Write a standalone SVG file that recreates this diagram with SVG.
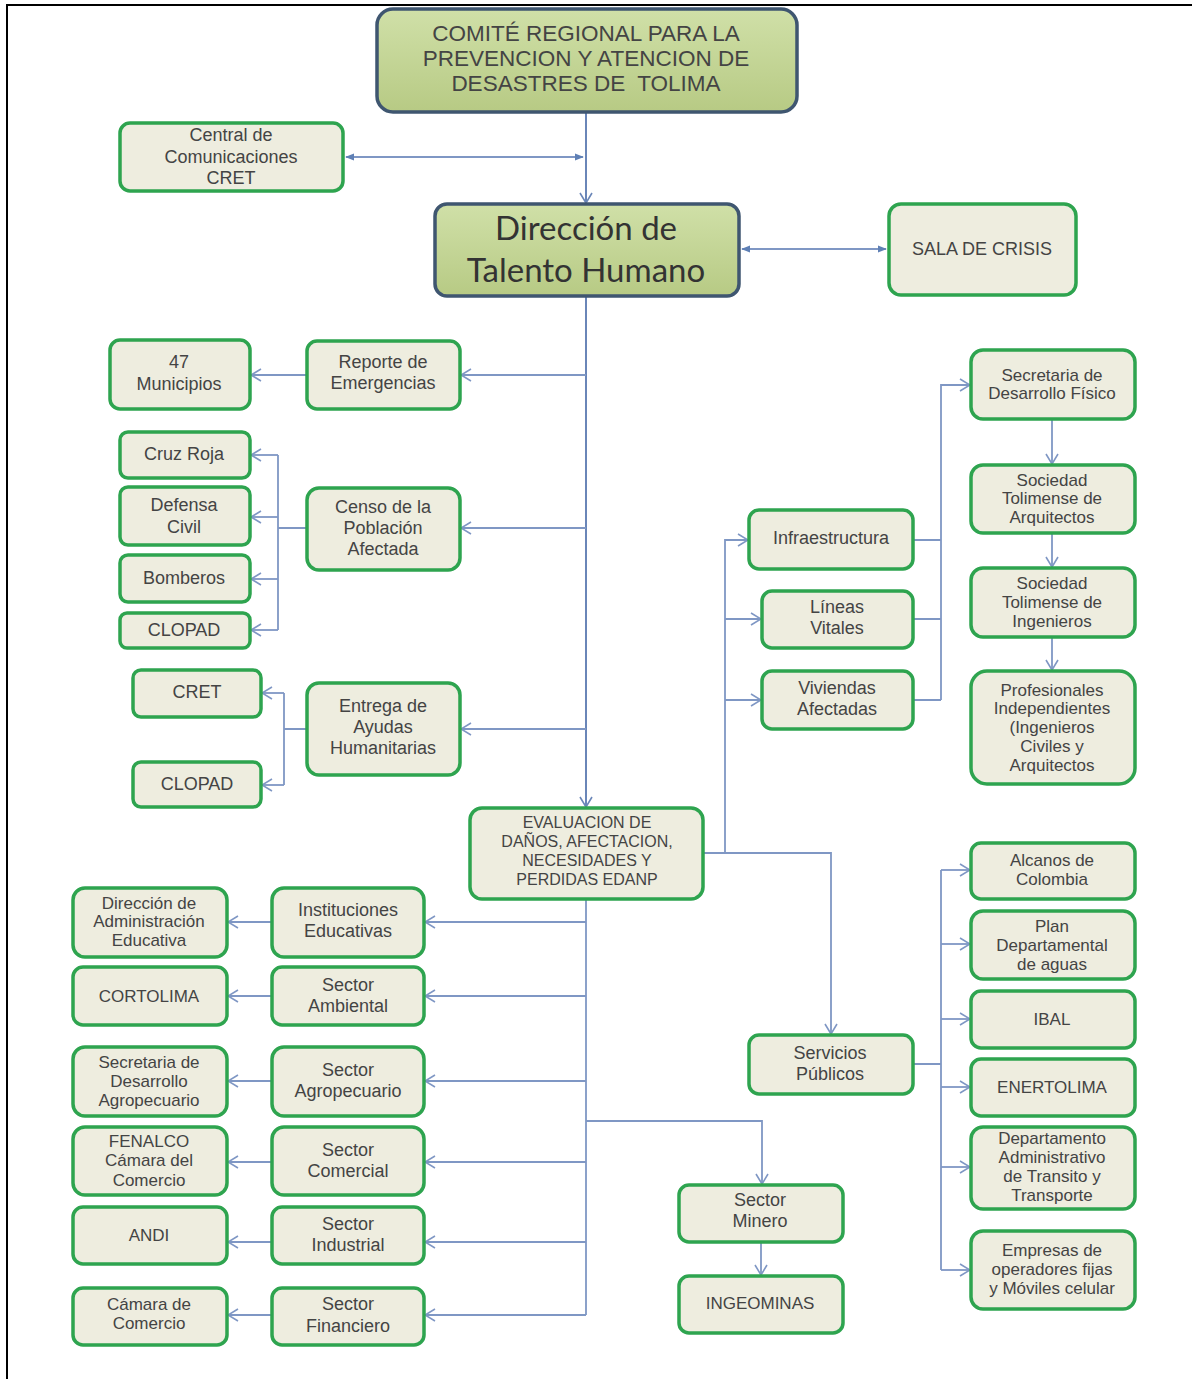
<svg xmlns="http://www.w3.org/2000/svg" width="1192" height="1379" viewBox="0 0 1192 1379">
<defs>
<linearGradient id="olive" x1="0" y1="0" x2="0" y2="1">
<stop offset="0" stop-color="#d0e0a8"/>
<stop offset="1" stop-color="#b7ca84"/>
</linearGradient>
<marker id="open" viewBox="0 0 12 14" refX="11" refY="7" markerWidth="12" markerHeight="14" markerUnits="userSpaceOnUse" orient="auto">
<path d="M1,1 L11,7 L1,13" fill="none" stroke="#7f97c4" stroke-width="1.6"/>
</marker>
<marker id="openD" viewBox="0 0 12 14" refX="11" refY="7" markerWidth="12" markerHeight="14" markerUnits="userSpaceOnUse" orient="auto">
<path d="M1,1 L11,7 L1,13" fill="none" stroke="#6a86b8" stroke-width="1.6"/>
</marker>
<marker id="fill" viewBox="0 0 10 10" refX="9" refY="5" markerWidth="9" markerHeight="9" markerUnits="userSpaceOnUse" orient="auto-start-reverse">
<path d="M0,1 L10,5 L0,9 z" fill="#5f80b5"/>
</marker>
</defs>
<style>
.n{fill:#eeeddf;stroke:#2ea44f;stroke-width:3.5}
.top{fill:url(#olive);stroke:#3f5670;stroke-width:3.5}
text{font-family:"Liberation Sans",Arial,sans-serif;fill:#444;text-anchor:middle}
.t18{font-size:18px}
.t17{font-size:17px}
.t16{font-size:16px}
.t22{font-size:22.5px}
.big{font-family:Lato,"Open Sans",sans-serif;font-size:33px;fill:#333}
.c{fill:none;stroke:#7f97c4;stroke-width:1.8}
.cd{fill:none;stroke:#6a86b8;stroke-width:2}
.a{marker-end:url(#open)}
.ad{marker-end:url(#openD)}
.ff{marker-start:url(#fill);marker-end:url(#fill)}
</style>
<rect width="1192" height="1379" fill="#fff"/>
<path d="M7,1379 V5 H1192" fill="none" stroke="#000" stroke-width="2"/>

<g id="connectors">
<path class="cd ad" d="M586,112 V203"/>
<path class="cd ad" d="M586,296 V807"/>
<path class="c ff" d="M346,157 H583"/>
<path class="c ff" d="M742,249 H886"/>
<path class="c a" d="M586,375 H461"/>
<path class="c a" d="M307,375 H251"/>
<path class="c a" d="M586,528 H461"/>
<path class="c" d="M307,528 H278 M278,455 V630"/>
<path class="c a" d="M278,455 H251"/>
<path class="c a" d="M278,517 H251"/>
<path class="c a" d="M278,579 H251"/>
<path class="c a" d="M278,630 H251"/>
<path class="c a" d="M586,729 H461"/>
<path class="c" d="M307,729 H284 M284,693 V785"/>
<path class="c a" d="M284,693 H262"/>
<path class="c a" d="M284,785 H262"/>
<path class="c a" d="M703,853 H831 V1034"/>
<path class="c a" d="M725,853 V540 H748"/>
<path class="c a" d="M725,619 H761"/>
<path class="c a" d="M725,700 H761"/>
<path class="c" d="M913,540 H941 M913,619 H941 M913,700 H941"/>
<path class="c a" d="M941,700 V385 H970"/>
<path class="c a" d="M1052,419 V464"/>
<path class="c a" d="M1052,533 V567"/>
<path class="c a" d="M1052,637 V670"/>
<path class="c" d="M913,1064 H941 M941,870 V1270"/>
<path class="c a" d="M941,870 H970"/>
<path class="c a" d="M941,944 H970"/>
<path class="c a" d="M941,1019 H970"/>
<path class="c a" d="M941,1087 H970"/>
<path class="c a" d="M941,1167 H970"/>
<path class="c a" d="M941,1270 H970"/>
<path class="c" d="M586,899 V1315"/>
<path class="c a" d="M586,922 H425"/>
<path class="c a" d="M586,996 H425"/>
<path class="c a" d="M586,1081 H425"/>
<path class="c a" d="M586,1162 H425"/>
<path class="c a" d="M586,1242 H425"/>
<path class="c a" d="M586,1315 H425"/>
<path class="c a" d="M586,1121 H762 V1184"/>
<path class="c a" d="M272,922 H228"/>
<path class="c a" d="M272,996 H228"/>
<path class="c a" d="M272,1081 H228"/>
<path class="c a" d="M272,1162 H228"/>
<path class="c a" d="M272,1242 H228"/>
<path class="c a" d="M272,1315 H228"/>
<path class="c a" d="M761,1242 V1275"/>
</g>

<g id="comite"><rect class="top" x="377" y="9" width="420" height="103" rx="16"/>
<text class="t22" x="586" y="41">COMITÉ REGIONAL PARA LA</text>
<text class="t22" x="586" y="66">PREVENCION Y ATENCION DE</text>
<text class="t22" x="586" y="91" xml:space="preserve">DESASTRES DE  TOLIMA</text></g>

<g id="central"><rect class="n" x="120" y="123" width="223" height="68" rx="10"/>
<text class="t18" x="231" y="141">Central de</text>
<text class="t18" x="231" y="163">Comunicaciones</text>
<text class="t18" x="231" y="184">CRET</text></g>

<g id="direccion"><rect class="top" x="435" y="204" width="304" height="92" rx="12"/>
<text class="big" x="586" y="240">Dirección de</text>
<text class="big" x="586" y="282">Talento Humano</text></g>

<g id="sala"><rect class="n" x="889" y="204" width="187" height="91" rx="12"/>
<text class="t18" x="982" y="255">SALA DE CRISIS</text></g>

<g id="municipios"><rect class="n" x="110" y="340" width="140" height="69" rx="10"/>
<text class="t18" x="179" y="368">47</text>
<text class="t18" x="179" y="390">Municipios</text></g>

<g id="reporte"><rect class="n" x="307" y="341" width="153" height="68" rx="10"/>
<text class="t18" x="383" y="368">Reporte de</text>
<text class="t18" x="383" y="389">Emergencias</text></g>

<g id="cruzroja"><rect class="n" x="120" y="432" width="130" height="46" rx="8"/>
<text class="t18" x="184" y="460">Cruz Roja</text></g>

<g id="defensa"><rect class="n" x="120" y="487" width="130" height="58" rx="8"/>
<text class="t18" x="184" y="511">Defensa</text>
<text class="t18" x="184" y="533">Civil</text></g>

<g id="bomberos"><rect class="n" x="120" y="555" width="130" height="47" rx="8"/>
<text class="t18" x="184" y="584">Bomberos</text></g>

<g id="clopad1"><rect class="n" x="120" y="613" width="130" height="35" rx="7"/>
<text class="t18" x="184" y="636">CLOPAD</text></g>

<g id="censo"><rect class="n" x="307" y="488" width="153" height="82" rx="12"/>
<text class="t18" x="383" y="513">Censo de la</text>
<text class="t18" x="383" y="534">Población</text>
<text class="t18" x="383" y="555">Afectada</text></g>

<g id="cret"><rect class="n" x="133" y="670" width="128" height="47" rx="8"/>
<text class="t18" x="197" y="698">CRET</text></g>

<g id="clopad2"><rect class="n" x="133" y="762" width="128" height="45" rx="8"/>
<text class="t18" x="197" y="790">CLOPAD</text></g>

<g id="entrega"><rect class="n" x="307" y="683" width="153" height="92" rx="12"/>
<text class="t18" x="383" y="712">Entrega de</text>
<text class="t18" x="383" y="733">Ayudas</text>
<text class="t18" x="383" y="754">Humanitarias</text></g>

<g id="edanp"><rect class="n" x="470" y="808" width="233" height="91" rx="12"/>
<text class="t16" x="587" y="828">EVALUACION DE</text>
<text class="t16" x="587" y="847">DAÑOS, AFECTACION,</text>
<text class="t16" x="587" y="866">NECESIDADES Y</text>
<text class="t16" x="587" y="885">PERDIDAS EDANP</text></g>

<g id="infraestructura"><rect class="n" x="749" y="510" width="164" height="59" rx="10"/>
<text class="t18" x="831" y="544">Infraestructura</text></g>

<g id="lineas"><rect class="n" x="762" y="591" width="151" height="57" rx="10"/>
<text class="t18" x="837" y="613">Líneas</text>
<text class="t18" x="837" y="634">Vitales</text></g>

<g id="viviendas"><rect class="n" x="762" y="671" width="151" height="58" rx="10"/>
<text class="t18" x="837" y="694">Viviendas</text>
<text class="t18" x="837" y="715">Afectadas</text></g>

<g id="sec-fisico"><rect class="n" x="971" y="350" width="164" height="69" rx="12"/>
<text class="t17" x="1052" y="381">Secretaria de</text>
<text class="t17" x="1052" y="399">Desarrollo Físico</text></g>

<g id="soc-arq"><rect class="n" x="971" y="465" width="164" height="68" rx="12"/>
<text class="t17" x="1052" y="486">Sociedad</text>
<text class="t17" x="1052" y="504">Tolimense de</text>
<text class="t17" x="1052" y="523">Arquitectos</text></g>

<g id="soc-ing"><rect class="n" x="971" y="568" width="164" height="69" rx="12"/>
<text class="t17" x="1052" y="589">Sociedad</text>
<text class="t17" x="1052" y="608">Tolimense de</text>
<text class="t17" x="1052" y="627">Ingenieros</text></g>

<g id="profesionales"><rect class="n" x="971" y="671" width="164" height="113" rx="16"/>
<text class="t17" x="1052" y="696">Profesionales</text>
<text class="t17" x="1052" y="714">Independientes</text>
<text class="t17" x="1052" y="733">(Ingenieros</text>
<text class="t17" x="1052" y="752">Civiles y</text>
<text class="t17" x="1052" y="771">Arquitectos</text></g>

<g id="alcanos"><rect class="n" x="971" y="843" width="164" height="56" rx="10"/>
<text class="t17" x="1052" y="866">Alcanos de</text>
<text class="t17" x="1052" y="885">Colombia</text></g>

<g id="plan"><rect class="n" x="971" y="911" width="164" height="68" rx="12"/>
<text class="t17" x="1052" y="932">Plan</text>
<text class="t17" x="1052" y="951">Departamental</text>
<text class="t17" x="1052" y="970">de aguas</text></g>

<g id="ibal"><rect class="n" x="971" y="991" width="164" height="57" rx="10"/>
<text class="t17" x="1052" y="1025">IBAL</text></g>

<g id="enertolima"><rect class="n" x="971" y="1059" width="164" height="57" rx="10"/>
<text class="t17" x="1052" y="1093">ENERTOLIMA</text></g>

<g id="transito"><rect class="n" x="971" y="1127" width="164" height="82" rx="12"/>
<text class="t17" x="1052" y="1144">Departamento</text>
<text class="t17" x="1052" y="1163">Administrativo</text>
<text class="t17" x="1052" y="1182">de Transito y</text>
<text class="t17" x="1052" y="1201">Transporte</text></g>

<g id="empresas"><rect class="n" x="971" y="1231" width="164" height="78" rx="12"/>
<text class="t17" x="1052" y="1256">Empresas de</text>
<text class="t17" x="1052" y="1275">operadores fijas</text>
<text class="t17" x="1052" y="1294">y Móviles celular</text></g>

<g id="servicios"><rect class="n" x="749" y="1035" width="164" height="59" rx="10"/>
<text class="t18" x="830" y="1059">Servicios</text>
<text class="t18" x="830" y="1080">Públicos</text></g>

<g id="minero"><rect class="n" x="679" y="1185" width="164" height="57" rx="10"/>
<text class="t18" x="760" y="1206">Sector</text>
<text class="t18" x="760" y="1227">Minero</text></g>

<g id="ingeominas"><rect class="n" x="679" y="1276" width="164" height="57" rx="10"/>
<text class="t17" x="760" y="1309">INGEOMINAS</text></g>

<g id="dir-adm-educ"><rect class="n" x="73" y="888" width="154" height="69" rx="12"/>
<text class="t17" x="149" y="909">Dirección de</text>
<text class="t17" x="149" y="927">Administración</text>
<text class="t17" x="149" y="946">Educativa</text></g>

<g id="inst-educ"><rect class="n" x="272" y="888" width="152" height="69" rx="12"/>
<text class="t18" x="348" y="916">Instituciones</text>
<text class="t18" x="348" y="937">Educativas</text></g>

<g id="cortolima"><rect class="n" x="73" y="967" width="154" height="58" rx="10"/>
<text class="t17" x="149" y="1002">CORTOLIMA</text></g>

<g id="ambiental"><rect class="n" x="272" y="967" width="152" height="58" rx="10"/>
<text class="t18" x="348" y="991">Sector</text>
<text class="t18" x="348" y="1012">Ambiental</text></g>

<g id="sec-agro"><rect class="n" x="73" y="1047" width="154" height="69" rx="12"/>
<text class="t17" x="149" y="1068">Secretaria de</text>
<text class="t17" x="149" y="1087">Desarrollo</text>
<text class="t17" x="149" y="1106">Agropecuario</text></g>

<g id="agropecuario"><rect class="n" x="272" y="1047" width="152" height="69" rx="12"/>
<text class="t18" x="348" y="1076">Sector</text>
<text class="t18" x="348" y="1097">Agropecuario</text></g>

<g id="fenalco"><rect class="n" x="73" y="1127" width="154" height="68" rx="12"/>
<text class="t17" x="149" y="1147">FENALCO</text>
<text class="t17" x="149" y="1166">Cámara del</text>
<text class="t17" x="149" y="1186">Comercio</text></g>

<g id="comercial"><rect class="n" x="272" y="1127" width="152" height="68" rx="12"/>
<text class="t18" x="348" y="1156">Sector</text>
<text class="t18" x="348" y="1177">Comercial</text></g>

<g id="andi"><rect class="n" x="73" y="1207" width="154" height="57" rx="10"/>
<text class="t17" x="149" y="1241">ANDI</text></g>

<g id="industrial"><rect class="n" x="272" y="1207" width="152" height="57" rx="10"/>
<text class="t18" x="348" y="1230">Sector</text>
<text class="t18" x="348" y="1251">Industrial</text></g>

<g id="camara"><rect class="n" x="73" y="1288" width="154" height="57" rx="10"/>
<text class="t17" x="149" y="1310">Cámara de</text>
<text class="t17" x="149" y="1329">Comercio</text></g>

<g id="financiero"><rect class="n" x="272" y="1288" width="152" height="57" rx="10"/>
<text class="t18" x="348" y="1310">Sector</text>
<text class="t18" x="348" y="1332">Financiero</text></g>
</svg>
